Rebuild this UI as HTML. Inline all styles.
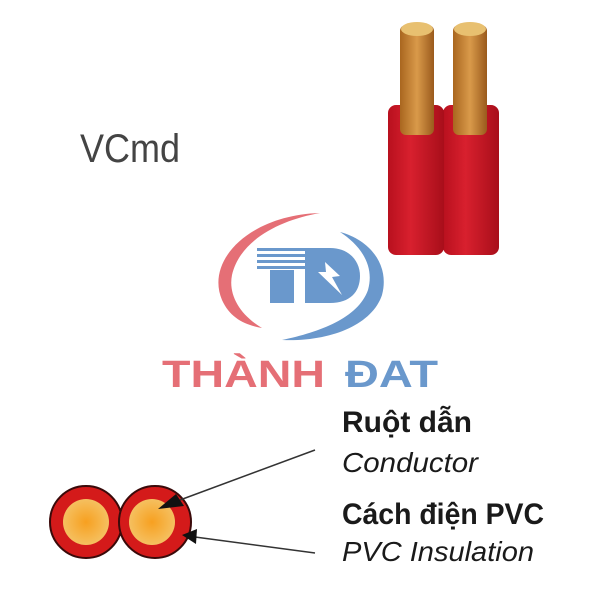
<!DOCTYPE html>
<html><head><meta charset="utf-8"><style>
html,body{margin:0;padding:0;background:#fff;}
svg{display:block;}
</style></head><body>
<svg width="600" height="600" viewBox="0 0 600 600" xmlns="http://www.w3.org/2000/svg">
<defs>
<linearGradient id="cu" x1="0" x2="1">
<stop offset="0" stop-color="#a9661f"/><stop offset="0.5" stop-color="#d99a4a"/><stop offset="1" stop-color="#9a5a1c"/>
</linearGradient>
<linearGradient id="rd" x1="0" x2="1">
<stop offset="0" stop-color="#b8101e"/><stop offset="0.4" stop-color="#d8202e"/><stop offset="1" stop-color="#a80e1a"/>
</linearGradient>
<radialGradient id="core"><stop offset="0" stop-color="#f7a020"/><stop offset="1" stop-color="#f5c060"/></radialGradient>
</defs>
<text x="80" y="162" font-family="Liberation Sans, sans-serif" font-size="40" fill="#444" transform="translate(80 0) scale(0.9 1) translate(-80 0)">VCmd</text>
<!-- cable -->
<rect x="443" y="105" width="56" height="150" rx="8" fill="url(#rd)"/>
<rect x="388" y="105" width="56" height="150" rx="8" fill="url(#rd)"/>
<rect x="400" y="25" width="34" height="110" rx="6" fill="url(#cu)"/>
<rect x="453" y="25" width="34" height="110" rx="6" fill="url(#cu)"/>
<ellipse cx="417" cy="29" rx="16" ry="7" fill="#e8c070"/>
<ellipse cx="470" cy="29" rx="16" ry="7" fill="#e8c070"/>
<!-- logo arcs -->
<path d="M320 213 C 250 215 205 260 222 300 C 230 318 245 325 262 328 C 240 315 228 295 232 275 C 240 240 280 220 320 213Z" fill="#e56f76"/>
<path d="M340 232 C 370 240 390 265 382 295 C 372 325 330 342 282 340 C 320 332 358 318 368 290 C 375 265 360 245 340 232Z" fill="#6a98cc"/>
<g fill="#6a98cc">
<rect x="257" y="248" width="50" height="3"/><rect x="257" y="254" width="50" height="3"/><rect x="257" y="260" width="50" height="3"/><rect x="257" y="266" width="50" height="3"/>
<rect x="270" y="270" width="24" height="33"/>
<path d="M305 248 H330 C350 248 360 262 360 276 C360 292 350 303 330 303 H305Z"/>
</g>
<path d="M325 262 L340 276 L332 277 L342 295 L318 272 L326 272Z" fill="#fff"/>
<text x="162" y="387" font-family="Liberation Sans, sans-serif" font-weight="bold" font-size="38" fill="#e56f76" textLength="163" lengthAdjust="spacingAndGlyphs">THÀNH</text>
<text x="345" y="387" font-family="Liberation Sans, sans-serif" font-weight="bold" font-size="38" fill="#6a98cc" textLength="93" lengthAdjust="spacingAndGlyphs">ĐAT</text>
<!-- cross section -->
<circle cx="86" cy="522" r="36" fill="#d41a1a" stroke="#3a0a0a" stroke-width="2"/>
<circle cx="155" cy="522" r="36" fill="#d41a1a" stroke="#3a0a0a" stroke-width="2"/>
<circle cx="86" cy="522" r="23" fill="url(#core)"/>
<circle cx="152" cy="522" r="23" fill="url(#core)"/>
<line x1="315" y1="450" x2="180" y2="500" stroke="#333" stroke-width="1.5"/>
<path d="M158 509 L176 494 L184 506Z" fill="#111"/>
<line x1="315" y1="553" x2="195" y2="537" stroke="#333" stroke-width="1.5"/>
<path d="M182 535 L197 529 L196 544Z" fill="#111"/>
<g font-family="Liberation Sans, sans-serif" fill="#1a1a1a">
<text x="342" y="432" font-size="30" font-weight="bold" textLength="130" lengthAdjust="spacingAndGlyphs">Ruột dẫn</text>
<text x="342" y="472" font-size="28" font-style="italic" textLength="136" lengthAdjust="spacingAndGlyphs">Conductor</text>
<text x="342" y="524" font-size="30" font-weight="bold" textLength="202" lengthAdjust="spacingAndGlyphs">Cách điện PVC</text>
<text x="342" y="561" font-size="28" font-style="italic" textLength="192" lengthAdjust="spacingAndGlyphs">PVC Insulation</text>
</g>
</svg>
</body></html>
